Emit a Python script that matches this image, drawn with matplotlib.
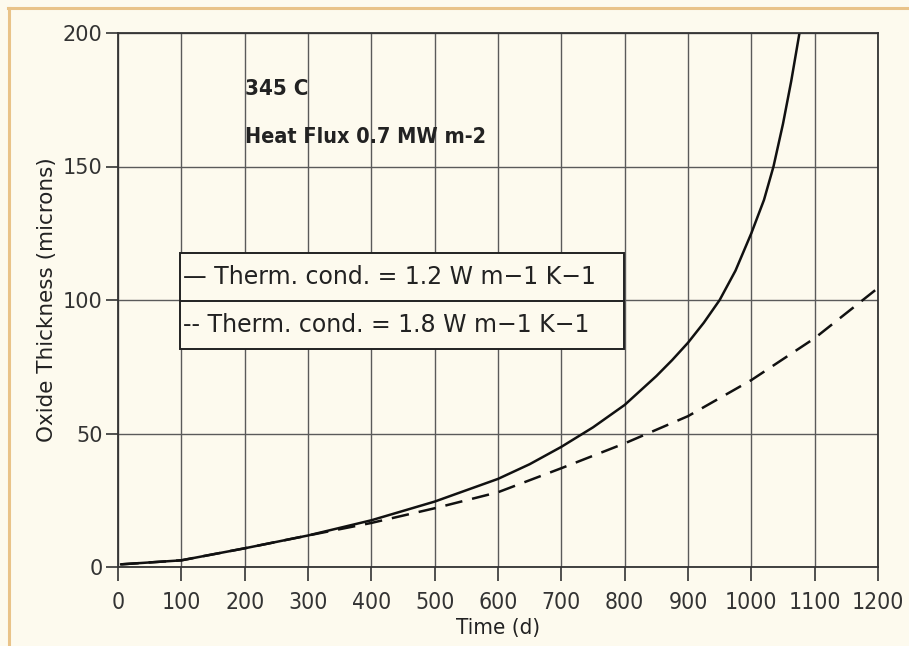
import matplotlib
matplotlib.use("Agg")
import matplotlib.pyplot as plt
from matplotlib.patches import Rectangle
from matplotlib.lines import Line2D

# ---- data ----
t_solid = [5, 100, 200, 300, 400, 500, 600, 650, 700, 750, 800, 850, 875, 900, 925, 950, 975,
           1000, 1020, 1035, 1050, 1063, 1076]
y_solid = [1, 2.5, 7, 11.8, 17.5, 24.5, 33, 38.5, 45, 52.3, 60.7, 71.5, 77.5, 84, 91.5, 100,
           111, 125, 137.5, 150, 166, 182, 200]
t_dash = [5, 100, 200, 300, 400, 500, 600, 700, 800, 900, 1000, 1100, 1200]
y_dash = [1, 2.5, 7, 11.8, 16.5, 22, 28, 37, 46.3, 56.5, 70, 85.7, 104.5]

x_ticks = [0, 100, 200, 300, 400, 500, 600, 700, 800, 900, 1000, 1100, 1200]
y_ticks = [0, 50, 100, 150, 200]
legend_labels = ["\u2014 Therm. cond. = 1.2 W m\u22121 K\u22121",
                 "-- Therm. cond. = 1.8 W m\u22121 K\u22121"]
note1 = "345 C"
note2 = "Heat Flux 0.7 MW m-2"

BG = "#fdfaee"
SANS = ["DejaVu Sans"]

fig = plt.figure(figsize=(9.09, 6.46), dpi=100, facecolor=BG)
ax = fig.add_axes([118/909, 1-567/646, 760/909, 534/646])
ax.set_facecolor(BG)

# border of the scanned page
fig.add_artist(Line2D([8/909, 1], [1-8/646, 1-8/646], transform=fig.transFigure, color="#e9c389", lw=2.2))
fig.add_artist(Line2D([9/909, 9/909], [0, 1-8/646], transform=fig.transFigure, color="#e9c389", lw=2.2))

ax.set_xlim(0, 1200)
ax.set_ylim(0, 200)
ax.set_xticks(x_ticks)
ax.set_yticks(y_ticks)
ax.grid(True, color="#5a5a5a", lw=1.0, ls="-")
ax.set_axisbelow(True)
for s in ax.spines.values():
    s.set_color("#333333")
    s.set_linewidth(1.3)

ax.tick_params(axis="x", direction="out", length=10, width=1.2, color="#333333", pad=7)
ax.tick_params(axis="y", direction="out", length=9, width=1.2, color="#333333", pad=2)
for lab in ax.get_xticklabels():
    lab.set_family(SANS); lab.set_fontsize(16.5); lab.set_color("#333333")
    lab.set_fontstretch("condensed")
for lab in ax.get_yticklabels():
    lab.set_family(SANS); lab.set_fontsize(15); lab.set_color("#333333")

ax.set_xlabel("Time (d)", family=SANS, fontstretch="condensed", fontsize=16, color="#222222", labelpad=3)
ax.set_ylabel("Oxide Thickness (microns)", family=SANS, fontsize=15.5, color="#222222", labelpad=4)

ax.plot(t_solid, y_solid, color="#111111", lw=1.8, solid_joinstyle="round")
ax.plot(t_dash, y_dash, color="#111111", lw=1.8, ls=(0, (7, 4)))

# annotations
ax.text(200, 179, note1, family=SANS, fontstretch="condensed", fontsize=16, fontweight="bold",
        color="#222222", va="center", ha="left")
ax.text(200, 161, note2, family=SANS, fontstretch="condensed", fontsize=15.5, fontweight="bold",
        color="#222222", va="center", ha="left")

# text-based legend box
x0 = (180-118)/760*1200
x1 = (624-118)/760*1200
ytop = (567-253)/534*200
ybot = (567-349)/534*200
ymid = (567-301)/534*200
ax.add_patch(Rectangle((x0, ybot), x1-x0, ytop-ybot, facecolor=BG, edgecolor="#222222", lw=1.4, zorder=5))
ax.plot([x0, x1], [ymid, ymid], color="#222222", lw=1.4, zorder=6)
ax.text(x0+4, (ytop+ymid)/2, legend_labels[0], family=SANS, fontsize=17, color="#222222",
        va="center", ha="left", zorder=7)
ax.text(x0+4, (ymid+ybot)/2, legend_labels[1], family=SANS, fontsize=17, color="#222222",
        va="center", ha="left", zorder=7)

fig.savefig("out.png", dpi=100, facecolor=BG)
